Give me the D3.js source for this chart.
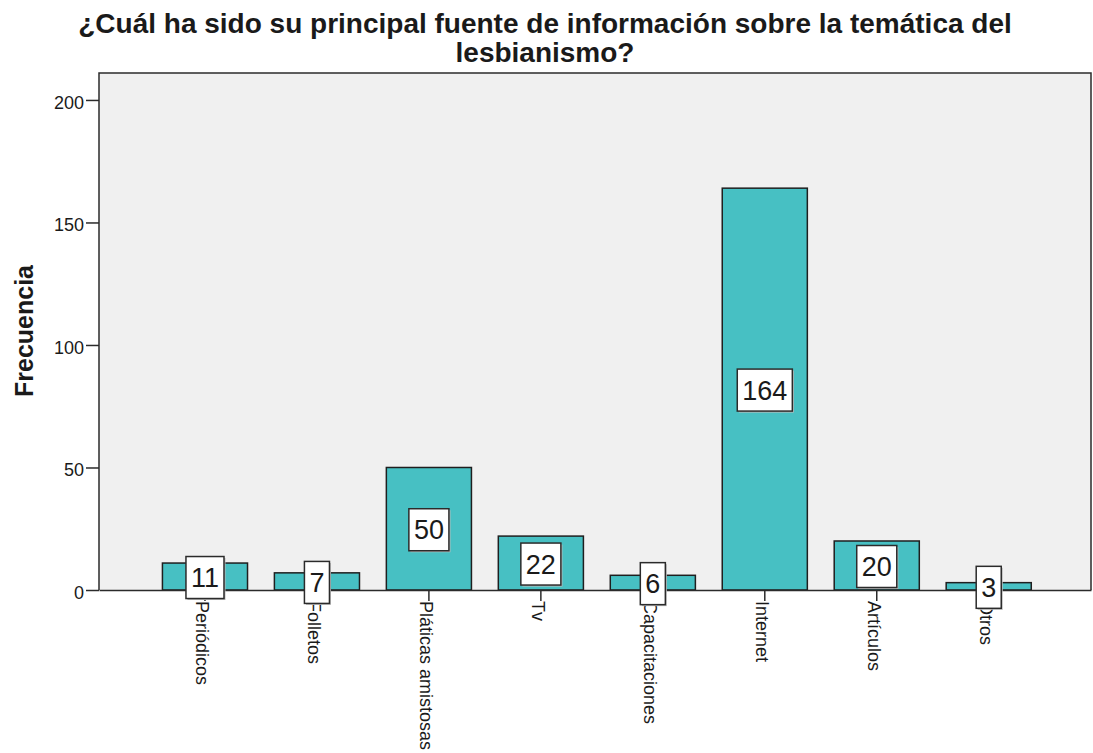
<!DOCTYPE html>
<html lang="es">
	<head>
		<meta charset="utf-8">
		<title>Fuente de información</title>
		<script type="text/javascript" src="https://cdn.jsdelivr.net/npm/d3@7/dist/d3.min.js"></script>
		<style type="text/css">
			body { margin: 0; background: #fff; }
			text { font-family: "Liberation Sans", Arial, sans-serif; fill: #1a1a1a; }
		</style>
	</head>
	<body>
		<script type="text/javascript">

			// data
			var categorias = ["Periódicos", "Folletos", "Pláticas amistosas", "Tv",
				"Capacitaciones", "Internet", "Artículos", "Otros"];
			var frecuencias = [11, 7, 50, 22, 6, 164, 20, 3];
			var yTicks = [0, 50, 100, 150, 200];
			var titulo = ["¿Cuál ha sido su principal fuente de información sobre la temática del",
				"lesbianismo?"];

			//Width and height
			var w = 1093;
			var h = 753;
			// plot area edges (window.top is reserved, so prefixed names)
			var plotL = 99, plotR = 1091, plotT = 73, plotB = 590;

			var svg = d3.select("body")
						.append("svg")
						.attr("width", w)
						.attr("height", h);

			// scales
			var x = d3.scaleBand()
				.domain(categorias)
				.range([plotL, plotR])
				.paddingInner(0.24)
				.paddingOuter(0.55)
				.align(0.515);

			var y = d3.scaleLinear()
				.domain([0, 211])
				.range([plotB, plotT]);

			// plot background + frame
			svg.append("rect")
				.attr("x", plotL)
				.attr("y", plotT)
				.attr("width", plotR - plotL)
				.attr("height", plotB - plotT)
				.attr("fill", "#f0f0f0");

			svg.append("path")
				.attr("d", "M" + plotL + "," + plotB + "V" + plotT + "H" + plotR + "V" + plotB)
				.attr("fill", "none")
				.attr("stroke", "#2b2b2b")
				.attr("stroke-width", 1.5);

			// bars
			svg.selectAll("rect.bar")
				.data(frecuencias)
				.enter()
				.append("rect")
				.attr("class", "bar")
				.attr("x", function(d, i) { return x(categorias[i]); })
				.attr("y", function(d) { return y(d); })
				.attr("width", x.bandwidth())
				.attr("height", function(d) { return y(0) - y(d); })
				.attr("fill", "#47c0c3")
				.attr("stroke", "#1f1f1f")
				.attr("stroke-width", 1.5);

			// y axis
			var yAxis = svg.append("g")
				.attr("transform", "translate(" + plotL + ",0)")
				.call(d3.axisLeft(y).tickValues(yTicks).tickSize(13).tickPadding(2));
			yAxis.select(".domain").remove();
			yAxis.selectAll(".tick line").attr("stroke", "#2b2b2b").attr("stroke-width", 1.5);
			yAxis.selectAll(".tick text")
				.attr("font-size", "18px")
				.attr("dy", "0.45em")
				.style("font-family", "'Liberation Sans', Arial, sans-serif")
				.attr("fill", "#1a1a1a");

			// x axis
			var xAxis = svg.append("g")
				.attr("transform", "translate(0," + plotB + ")")
				.call(d3.axisBottom(x).tickSize(11).tickSizeOuter(0).tickPadding(0));
			xAxis.select(".domain").attr("stroke", "#2b2b2b").attr("stroke-width", 1.5);
			xAxis.selectAll(".tick line").attr("stroke", "#2b2b2b").attr("stroke-width", 1.5);
			xAxis.selectAll(".tick text")
				.attr("font-size", "18px")
				.attr("text-anchor", "start")
				.attr("transform", "rotate(90)")
				.attr("x", 11)
				.attr("y", 0)
				.attr("dy", "0.5em")
				.style("font-family", "'Liberation Sans', Arial, sans-serif")
				.attr("fill", "#1a1a1a");

			// value labels in boxes
			var etiquetas = svg.selectAll("g.etiqueta")
				.data(frecuencias)
				.enter()
				.append("g")
				.attr("class", "etiqueta")
				.attr("transform", function(d, i) {
					var cx = x(categorias[i]) + x.bandwidth() / 2;
					var cy = (y(d) + y(0)) / 2 + 1;
					return "translate(" + cx + "," + cy + ")";
				});

			etiquetas.append("rect").attr("class", "sombra");
			etiquetas.append("rect").attr("class", "caja");
			etiquetas.append("text")
				.attr("text-anchor", "middle")
				.attr("dy", "0.36em")
				.attr("font-size", "27px")
				.text(function(d) { return d; });

			etiquetas.each(function() {
				var g = d3.select(this);
				var tw = g.select("text").node().getComputedTextLength() + 10;
				g.select("rect.sombra")
					.attr("x", -tw / 2 + 1.5).attr("y", -21 + 1.5)
					.attr("width", tw).attr("height", 42)
					.attr("fill", "#bbb");
				g.select("rect.caja")
					.attr("x", -tw / 2).attr("y", -21)
					.attr("width", tw).attr("height", 42)
					.attr("fill", "#fff")
					.attr("stroke", "#2b2b2b")
					.attr("stroke-width", 1.5);
			});

			// titles
			svg.append("text")
				.attr("x", 545)
				.attr("y", 33)
				.attr("text-anchor", "middle")
				.attr("font-size", "28px")
				.attr("font-weight", "bold")
				.selectAll("tspan")
				.data(titulo)
				.enter()
				.append("tspan")
				.attr("x", 545)
				.attr("dy", function(d, i) { return i ? 29 : 0; })
				.text(function(d) { return d; });

			svg.append("text")
				.attr("transform", "translate(33,331) rotate(-90)")
				.attr("text-anchor", "middle")
				.attr("font-size", "25px")
				.attr("font-weight", "bold")
				.text("Frecuencia");

		</script>
	</body>
</html>
